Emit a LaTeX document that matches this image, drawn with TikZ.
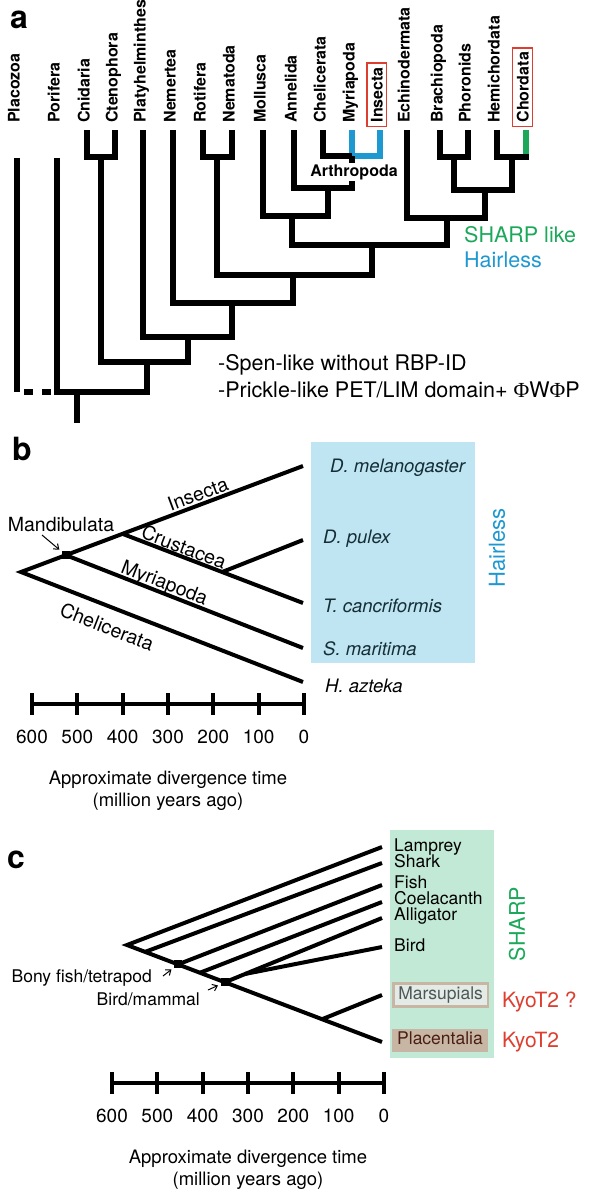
\documentclass[tikz,border=0pt]{standalone}
\usepackage{fontspec}
\setmainfont{TeX Gyre Heros}
\newfontfamily\phifont{Liberation Serif}
\usetikzlibrary{arrows.meta,calc}
\tikzset{>={Straight Barb[length=4.5pt,width=7pt]}}
\definecolor{hlblue}{RGB}{30,152,208}
\definecolor{shgreen}{RGB}{28,168,90}
\definecolor{kyored}{RGB}{222,62,48}
\definecolor{hlfill}{RGB}{190,229,241}
\definecolor{shfill}{RGB}{193,233,214}
\definecolor{tanfill}{RGB}{200,182,164}
\definecolor{tipfill}{RGB}{228,234,230}
\definecolor{inkbox}{RGB}{20,45,55}

\begin{document}
\begin{tikzpicture}[x=1pt, y=-1pt,
	tree/.style = {line width=6pt, line join=miter},
	branch/.style = {line width=4pt, line join=miter},
	scalebar/.style = {line width=4pt},
	taxon/.style = {rotate=90, anchor=mid west, inner sep=0pt, font=\fontsize{16}{19}\selectfont\bfseries},
	flagged/.style = {taxon, draw=kyored, line width=1.3pt, inner sep=4pt},
	panel/.style = {anchor=base west, inner sep=0pt, font=\fontsize{32}{36}\selectfont\bfseries},
	note/.style = {anchor=base west, inner sep=0pt, font=\fontsize{21.5}{25}\selectfont},
	species/.style = {anchor=base west, inner sep=0pt, font=\fontsize{18.5}{22}\selectfont\itshape},
	clade/.style = {inner sep=0pt, font=\fontsize{19.5}{23}\selectfont},
	vert/.style = {anchor=base west, inner sep=0pt, font=\fontsize{17.5}{20}\selectfont},
	tipbox/.style = {vert, anchor=west, inner xsep=5pt, minimum height=23pt, text height=12.5pt, text depth=3.5pt},
	num/.style = {anchor=base, inner sep=0pt, font=\fontsize{19}{22}\selectfont},
	caption/.style = {anchor=north, align=center, inner sep=0pt, font=\fontsize{18.5}{22}\selectfont},
	knot/.style = {fill, inner sep=0pt, minimum size=8pt},
	pointer/.style = {->, line width=1pt, shorten >=3pt}]
	\useasboundingbox (0,0) rectangle (594,1189);

	% panel a
	\node[panel] (a) at (10,28) {a};
	\foreach \n/\x/\t in {placozoa/17/Placozoa, porifera/57/Porifera, cnidaria/87/Cnidaria, ctenophora/115/Ctenophora, platyhelminthes/143/Platyhelminthes, nemertea/173/Nemertea, rotifera/203/Rotifera, nematoda/232/Nematoda, mollusca/263/Mollusca, annelida/294/Annelida, chelicerata/323/Chelicerata, myriapoda/352/Myriapoda, echinodermata/407/Echinodermata, brachiopoda/440/Brachiopoda, phoronids/468/Phoronids, hemichordata/497/Hemichordata}
	{
		\node[taxon] (\n) at (\x,123) {\t};
		\coordinate (\n-t) at (\x,130);
	}
	\node[flagged] (insecta) at (380,127) {Insecta};
	\coordinate (insecta-t) at (380,130);
	\node[flagged] (chordata) at (526,127) {Chordata};
	\coordinate (chordata-t) at (526,130);
	\coordinate (placozoa-t) at (17,158);
	\coordinate (porifera-t) at (57,158);

	\coordinate (cc) at (101,157);
	\coordinate (rn) at (217,157);
	\coordinate (myin) at (366,156);
	\coordinate (arthro) at (352,156);
	\coordinate (bp) at (454,157);
	\coordinate (hc) at (512,157);
	\coordinate (aa) at (328,188);
	\coordinate (ma) at (292,216);
	\coordinate (bphc) at (485,190);
	\coordinate (ed) at (447,218);
	\coordinate (pd) at (372,245);
	\coordinate (rnpd) at (293,275);
	\coordinate (nem) at (232,303);
	\coordinate (platy) at (188,337);
	\coordinate (cp) at (147,362);
	\coordinate (root) at (77,392);

	\draw[tree] (cnidaria-t) |- (cc) -| (ctenophora-t);
	\draw[tree] (rotifera-t) |- (rn) -| (nematoda-t);
	\draw[tree] (brachiopoda-t) |- (bp) -| (phoronids-t);
	\draw[tree] (hemichordata-t) |- (hc) -| (chordata-t);
	\draw[tree, shgreen, shorten >=3pt] (chordata-t) -- (chordata-t |- hc);
	\draw[tree, hlblue] (myriapoda-t) |- (myin) -| (insecta-t);
	\draw[tree] (chelicerata-t) |- (arthro);
	\draw[tree] (annelida-t) |- (aa) -| (arthro);
	\draw[tree] (mollusca-t) |- (ma) -| (aa);
	\draw[tree] (bp) |- (bphc) -| (hc);
	\draw[tree] (echinodermata-t) |- (ed) -| (bphc);
	\draw[tree] (ma) |- (pd) -| (ed);
	\draw[tree] (rn) |- (rnpd) -| (pd);
	\draw[tree] (nemertea-t) |- (nem) -| (rnpd);
	\draw[tree] (platyhelminthes-t) |- (platy) -| (nem);
	\draw[tree] (cc) |- (cp) -| (platy);
	\draw[tree] (porifera-t) |- (root) -| (cp);
	\draw[tree] (root) -- ++(0,31);
	\draw[tree] (placozoa-t) -- (placozoa-t |- root) coordinate (plz);
	\draw[tree, dash pattern=on 0pt off 4pt on 5pt] ([xshift=3pt]plz) -- (porifera-t |- root);
	\node[fill=white, inner sep=1pt, font=\fontsize{16}{19}\selectfont\bfseries] (arthropoda) at (354,172) {Arthropoda};

	\node[note, shgreen] (sharplike) at (464,242) {SHARP like};
	\node[note, hlblue] (hairless-a) at (464,267) {Hairless};
	\node[note] (spen) at (218,370) {-Spen-like without RBP-ID};
	\node[note] (prickle) at (218,397) {-Prickle-like PET/LIM domain+ {\phifont Φ}W{\phifont Φ}P};

	% panel b
	\node[panel] (b) at (12,460) {b};
	\fill[hlfill] (311,442) rectangle (475,663);
	\coordinate (rootb) at (21,572);
	\coordinate (dmel) at (303,466);
	\coordinate (dpul) at (303,540);
	\coordinate (tcan) at (303,603);
	\coordinate (smar) at (303,648);
	\coordinate (hazt) at (303,682);
	\coordinate (mand) at ($(rootb)!0.159!(dmel)$);
	\coordinate (ic) at ($(rootb)!0.36!(dmel)$);
	\coordinate (dc) at ($(ic)!0.552!(tcan)$);
	\draw[branch] (hazt) -- (rootb) -- (dmel);
	\draw[branch] (ic) -- (tcan);
	\draw[branch] (dc) -- (dpul);
	\draw[branch] (mand) -- (smar);
	\node[knot] (mandsq) at (mand) {};
	\node[clade] (mandlbl) at (61,525) {Mandibulata};
	\draw[pointer] ([xshift=-19pt, yshift=-10pt]mandlbl.center) -- (mandsq);

	\node[clade, rotate=20.5] (insecta-b) at (198,494) {Insecta};
	\node[clade, rotate=-20.9] (crustacea-b) at (184,547) {Crustacea};
	\node[clade, rotate=-21.3] (myriapoda-b) at (164,584) {Myriapoda};
	\node[clade, rotate=-21.2] (chelicerata-b) at (107,627) {Chelicerata};

	\node[species, inkbox] (dmel-l) at (330,472) {D. melanogaster};
	\node[species, inkbox] (dpul-l) at (323,543) {D. pulex};
	\node[species, inkbox] (tcan-l) at (323,612) {T. cancriformis};
	\node[species, inkbox] (smar-l) at (323,655) {S. maritima};
	\node[species] (hazt-l) at (325,692) {H. azteka};
	\node[rotate=90, inner sep=0pt, hlblue, font=\fontsize{22}{26}\selectfont] (hairless-b) at (497,548) {Hairless};

	% panel c
	\node[panel] (c) at (7,868) {c};
	\fill[shfill] (390,830) rectangle (494,1058);
	\coordinate (rootc) at (127,945);
	\coordinate (lamp) at (382,847);
	\coordinate (shark) at (382,863);
	\coordinate (fish) at (382,885);
	\coordinate (coel) at (382,902);
	\coordinate (alli) at (382,918);
	\coordinate (bird) at (382,947);
	\coordinate (mars) at (382,995);
	\coordinate (plac) at (382,1042);
	\coordinate (sk) at ($(rootc)!0.071!(plac)$);
	\coordinate (bt) at ($(rootc)!0.2!(plac)$);
	\coordinate (co) at ($(rootc)!0.286!(plac)$);
	\coordinate (bm) at ($(rootc)!0.384!(plac)$);
	\coordinate (mp) at ($(rootc)!0.765!(plac)$);
	\coordinate (bb) at ($(bm)!0.13!(alli)$);
	\draw[branch] (lamp) -- (rootc) -- (plac);
	\draw[branch] (sk) -- (shark);
	\draw[branch] (bt) -- (fish);
	\draw[branch] (co) -- (coel);
	\draw[branch] (bm) -- (alli);
	\draw[branch] (bb) -- (bird);
	\draw[branch] (mp) -- (mars);
	\node[knot] (btsq) at (bt) {};
	\node[knot] (bmsq) at (bm) {};

	\node[vert, anchor=base east] (bonyfish) at (152,982) {Bony fish/tetrapod};
	\draw[pointer] ([xshift=11pt, yshift=6pt]bonyfish.base east) -- (btsq);
	\node[vert, anchor=base east] (birdmammal) at (200,1005) {Bird/mammal};
	\draw[pointer] ([xshift=8pt, yshift=15pt]birdmammal.base east) -- (bmsq);

	\node[vert] (lamprey) at (394,851) {Lamprey};
	\node[vert] (shark-l) at (394,867) {Shark};
	\node[vert] (fish-l) at (394,888) {Fish};
	\node[vert] (coel-l) at (394,904) {Coelacanth};
	\node[vert] (alli-l) at (394,920) {Alligator};
	\node[vert] (bird-l) at (394,951) {Bird};
	\node[tipbox, draw=tanfill, line width=2.5pt, fill=tipfill, text={rgb,255:red,75;green,88;blue,88}] (marsupials) at (392,995) {Marsupials};
	\node[tipbox, fill=tanfill, text={rgb,255:red,75;green,30;blue,20}] (placentalia) at (392,1040) {Placentalia};
	\node[note, kyored, font=\fontsize{21}{25}\selectfont] (kyo-q) at (502,1007) {KyoT2 ?};
	\node[note, kyored, font=\fontsize{21}{25}\selectfont] (kyo) at (502,1047) {KyoT2};
	\node[rotate=90, inner sep=0pt, shgreen, font=\fontsize{21.5}{25}\selectfont] (sharp-c) at (517,924) {SHARP};

	% time axes
	\foreach \bx/\by/\p in {32/704/b, 112/1083/c}
	{
		\draw[scalebar] (\bx,\by) -- ++(272,0);
		\foreach \i in {0,...,6}
		{
			\pgfmathtruncatemacro\yr{600-100*\i}
			\draw[scalebar] (\bx+\i*45.33,\by-11) -- ++(0,22);
			\node[num] (yr-\p-\i) at (\bx+\i*45.33,\by+39) {\yr};
		}
		\node[caption] (axis-\p) at (\bx+136,\by+67) {Approximate divergence time\\(million years ago)};
	}
\end{tikzpicture}
\end{document}
